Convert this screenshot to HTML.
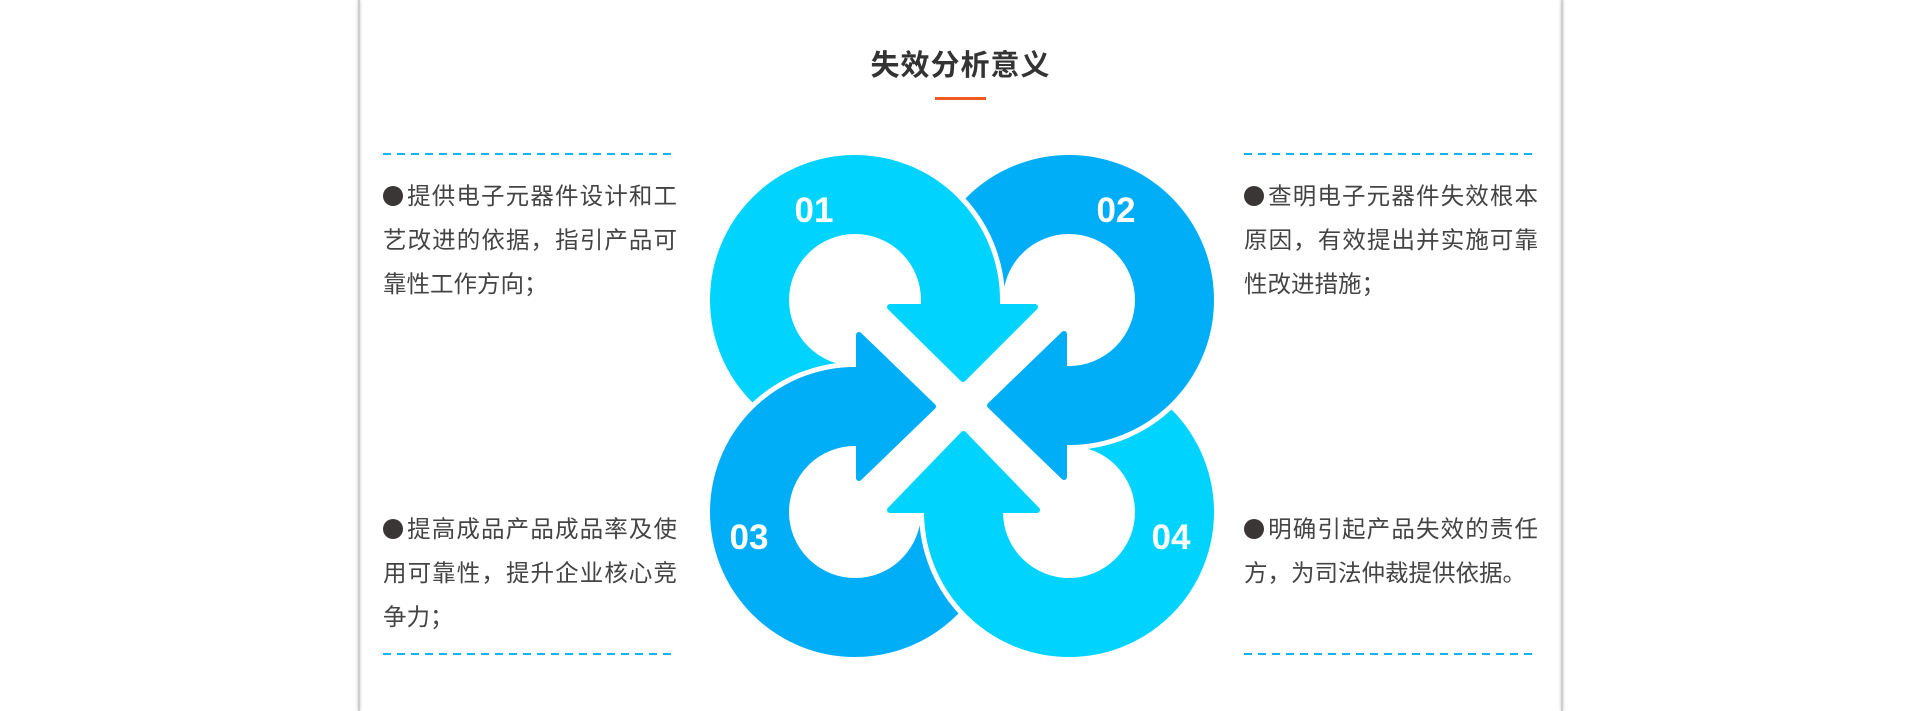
<!DOCTYPE html>
<html><head><meta charset="utf-8"><style>
html,body{margin:0;padding:0;width:1921px;height:711px;background:#fff;overflow:hidden;position:relative;font-family:"Liberation Sans","Noto Sans CJK SC",sans-serif}
.vl{position:absolute;top:0;width:2px;height:711px;background:#cfcfcf;box-shadow:0 0 3px #bbb}
.title{position:absolute;left:0;width:1921px;top:42px;text-align:center;font-size:29px;font-weight:bold;color:#333;letter-spacing:1px}
.ol{position:absolute;left:935px;top:97px;width:51px;height:3px;background:#f05a22}
.dash{position:absolute;height:2px;width:294px;background:repeating-linear-gradient(90deg,#12b4f6 0 8px,transparent 8px 14px)}
.txt{position:absolute;width:294px;font-size:23.5px;color:#444;line-height:44px}
.txt div{text-align:justify;text-align-last:justify;white-space:nowrap}
.txt div.l{text-align-last:left}
.b{display:inline-block;width:20px;height:20px;border-radius:50%;background:#3a3636;vertical-align:-2px;margin-right:3px}
</style></head><body>
<div class="vl" style="left:358px"></div>
<div class="vl" style="left:1561px"></div>
<div class="title">失效分析意义</div>
<div class="ol"></div>
<div class="dash" style="left:383px;top:153px"></div>
<div class="dash" style="left:1244px;top:153px"></div>
<div class="dash" style="left:383px;top:653px"></div>
<div class="dash" style="left:1244px;top:653px"></div>
<div class="txt" style="left:383px;top:174px"><div><span class="b"></span>提供电子元器件设计和工</div><div>艺改进的依据，指引产品可</div><div class="l">靠性工作方向；</div></div>
<div class="txt" style="left:1244px;top:174px"><div><span class="b"></span>查明电子元器件失效根本</div><div>原因，有效提出并实施可靠</div><div class="l">性改进措施；</div></div>
<div class="txt" style="left:383px;top:507px"><div><span class="b"></span>提高成品产品成品率及使</div><div>用可靠性，提升企业核心竞</div><div class="l">争力；</div></div>
<div class="txt" style="left:1244px;top:507px"><div><span class="b"></span>明确引起产品失效的责任</div><div class="l">方，为司法仲裁提供依据。</div></div>
<svg style="position:absolute;left:0;top:0" width="1921" height="711">
<defs>
<mask id="m1" maskUnits="userSpaceOnUse" x="0" y="0" width="1921" height="711"><rect width="1921" height="711" fill="#fff"/><circle cx="855" cy="512" r="150" fill="#000"/></mask>
<mask id="m2" maskUnits="userSpaceOnUse" x="0" y="0" width="1921" height="711"><rect width="1921" height="711" fill="#fff"/><circle cx="855" cy="300" r="150" fill="#000"/></mask>
<mask id="m3" maskUnits="userSpaceOnUse" x="0" y="0" width="1921" height="711"><rect width="1921" height="711" fill="#fff"/><circle cx="1069" cy="512" r="150" fill="#000"/></mask>
<mask id="m4" maskUnits="userSpaceOnUse" x="0" y="0" width="1921" height="711"><rect width="1921" height="711" fill="#fff"/><circle cx="1069" cy="300" r="150" fill="#000"/></mask>
</defs>
<g mask="url(#m1)" fill="#00d4fe" stroke-linejoin="round">
<path d="M855 405.5 A105.5 105.5 0 1 1 960.5 300 L960.5 309" fill="none" stroke="#00d4fe" stroke-width="79"/>
<polygon points="890,307 1035,307 963,379" stroke="#00d4fe" stroke-width="6"/>
</g>
<g mask="url(#m2)" fill="#00aef8" stroke-linejoin="round">
<path d="M963.5 300 A105.5 105.5 0 1 1 1069 405.5 L1062 405.5" fill="none" stroke="#00aef8" stroke-width="79"/>
<polygon points="1064,334 1064,477 990,405.5" stroke="#00aef8" stroke-width="6"/>
</g>
<g mask="url(#m3)" fill="#00aef8" stroke-linejoin="round">
<path d="M960.5 512 A105.5 105.5 0 1 1 855 406.5 L862 406.5" fill="none" stroke="#00aef8" stroke-width="79"/>
<polygon points="859,335 859,478 933,406.5" stroke="#00aef8" stroke-width="6"/>
</g>
<g mask="url(#m4)" fill="#00d4fe" stroke-linejoin="round">
<path d="M1069 406.5 A105.5 105.5 0 1 1 963.5 512 L963.5 504" fill="none" stroke="#00d4fe" stroke-width="79"/>
<polygon points="890,510 1037,510 963.5,434" stroke="#00d4fe" stroke-width="6"/>
</g>
<g fill="#fff" font-family="Liberation Sans, sans-serif" font-weight="bold" font-size="35" text-anchor="middle">
<text x="814" y="222">01</text>
<text x="1116" y="222">02</text>
<text x="749" y="549">03</text>
<text x="1171" y="549">04</text>
</g>
</svg>
</body></html>
